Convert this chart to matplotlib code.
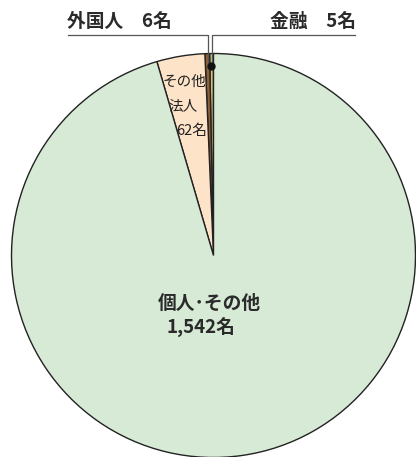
import matplotlib.pyplot as plt

plt.rcParams['font.family'] = ['Noto Sans CJK JP', 'DejaVu Sans']

labels = ['金融', '外国人', 'その他法人', '個人･その他']
counts = [5, 6, 62, 1542]
colors = ['#cfc27a', '#8f5f35', '#fde3c8', '#d6ead6']

W, H = 416, 457
fig = plt.figure(figsize=(W / 100, H / 100), dpi=100)
ax = fig.add_axes([0, 0, 1, 1])

cx, cy, r = 213.5, H - 255.5, 202
ax.pie(counts, colors=colors, startangle=90, counterclock=True,
       center=(cx, cy), radius=r, frame=True,
       wedgeprops=dict(edgecolor='#222222', linewidth=1.0))
ax.set_xlim(0, W)
ax.set_ylim(0, H)
ax.set_aspect('equal')
ax.axis('off')

# leader lines for the two thin slices
line_c = '#555555'
ax.plot([68, 208, 208], [H - 35, H - 35, H - 67], color=line_c, lw=0.9)
ax.plot([355, 212, 212], [H - 35, H - 35, H - 67], color=line_c, lw=0.9)
ax.plot([210.5], [H - 66], 'o', color='#111111', ms=5)

ax.text(67, H - 21, f'{labels[1]}　{counts[1]}名', fontsize=13.5,
        fontweight='bold', color='#2a2a2a', va='center', ha='left')
ax.text(356, H - 21, f'{labels[0]}　{counts[0]}名', fontsize=13.5,
        fontweight='bold', color='#2a2a2a', va='center', ha='right')

ax.text(184, H - 82, 'その他', fontsize=10.5, color='#222222',
        va='center', ha='center')
ax.text(183, H - 106, '法人', fontsize=10.5, color='#222222',
        va='center', ha='center')
ax.text(192, H - 131, f'{counts[2]}名', fontsize=10.5, color='#222222',
        va='center', ha='center')

ax.text(158, H - 303, labels[3], fontsize=13.5, fontweight='bold',
        color='#2a2a2a', va='center', ha='left')
ax.text(167, H - 328, f'{counts[3]:,}名', fontsize=13.5, fontweight='bold',
        color='#2a2a2a', va='center', ha='left')

fig.savefig('out.png', dpi=100)
